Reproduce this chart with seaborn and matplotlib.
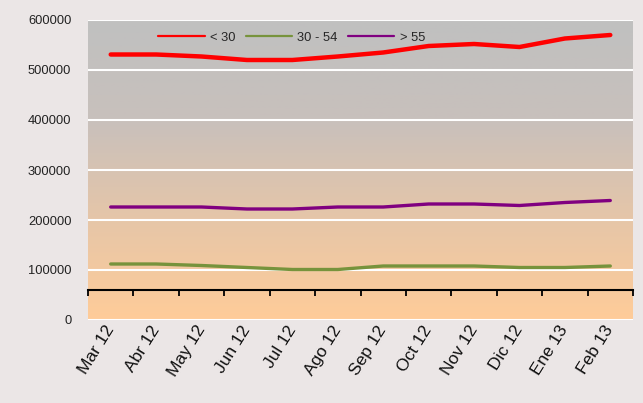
import numpy as np
import pandas as pd
import matplotlib
matplotlib.use("Agg")
import matplotlib.pyplot as plt
from matplotlib.colors import LinearSegmentedColormap
from matplotlib.lines import Line2D
import seaborn as sns

months = ["Mar 12", "Abr 12", "May 12", "Jun 12", "Jul 12", "Ago 12",
          "Sep 12", "Oct 12", "Nov 12", "Dic 12", "Ene 13", "Feb 13"]
under_30 = [531000, 531000, 527000, 520000, 520000, 527000,
            535000, 548000, 552000, 546000, 563000, 570000]
mid_30_54 = [112000, 112000, 109000, 105000, 101000, 101000,
             108000, 108000, 108000, 105000, 105000, 108000]
over_55 = [226000, 226000, 226000, 222000, 222000, 226000,
           226000, 232000, 232000, 229000, 235000, 239000]
series_names = ["< 30", "30 - 54", "> 55"]
colors = ["#ff0000", "#77933c", "#800080"]
y_ticks = [0, 100000, 200000, 300000, 400000, 500000, 600000]

df = pd.DataFrame({
    "mes": months * 3,
    "valor": under_30 + mid_30_54 + over_55,
    "grupo": [series_names[0]] * 12 + [series_names[1]] * 12 + [series_names[2]] * 12,
})

sns.set_theme(style="white")
plt.rcParams["font.family"] = ["Liberation Sans", "DejaVu Sans"]

fig = plt.figure(figsize=(6.43, 4.03), dpi=100, facecolor="#ebe6e6")
ax = fig.add_axes([88 / 643, 1 - 320 / 403, 545 / 643, 300 / 403])
ax.set_facecolor("none")

# gradient background
cmap = LinearSegmentedColormap.from_list("bg", ["#c0c0c0", "#c8c0bc", "#e6c6a8", "#ffcc99"])
grad = np.linspace(0, 1, 256).reshape(-1, 1)
ax.imshow(grad, cmap=cmap, aspect="auto", extent=[0, 1, 0, 1],
          transform=ax.transAxes, zorder=-10)

sns.lineplot(data=df, x="mes", y="valor", hue="grupo", palette=colors,
             sort=False, ax=ax, legend=False, zorder=5)
widths = [3.2, 2.4, 2.4]
for line, w in zip(ax.get_lines(), widths):
    line.set_linewidth(w)
    line.set_solid_capstyle("round")
    line.set_solid_joinstyle("round")

ax.set_xlim(-0.5, len(months) - 0.5)
ax.set_ylim(0, 600000)
ax.set_yticks(y_ticks)
ax.set_yticklabels([str(v) for v in y_ticks])
for v in y_ticks:
    ax.axhline(v, color="white", lw=1.5, zorder=1)

ax.set_xticks(range(len(months)))
ax.set_xticklabels(months, rotation=58, ha="right", va="center",
                   rotation_mode="anchor", fontsize=12.5, color="#111111")
ax.tick_params(axis="x", length=0, pad=5)
ax.tick_params(axis="y", length=0, pad=12, labelsize=9.3, labelcolor="#222222")
ax.set_xlabel("")
ax.set_ylabel("")
for s in ax.spines.values():
    s.set_visible(False)

# category axis line crossing at 60000
sec = ax.secondary_xaxis(0.1)
sec.set_xticks(np.arange(-0.5, len(months), 1.0))
sec.set_xticklabels([""] * (len(months) + 1))
sec.tick_params(axis="x", direction="out", length=4, width=1.3, color="black")
sec.spines["bottom"].set_color("black")
sec.spines["bottom"].set_linewidth(1.5)

handles = [Line2D([], [], color=c, lw=1.6) for c in colors]
ax.legend(handles, series_names, ncol=3, frameon=False, fontsize=9.3,
          loc="center left", bbox_to_anchor=(0.119, 0.94), borderaxespad=0,
          handlelength=3.6, handletextpad=0.4, columnspacing=0.8)

fig.savefig("out.png", dpi=100, facecolor=fig.get_facecolor())
